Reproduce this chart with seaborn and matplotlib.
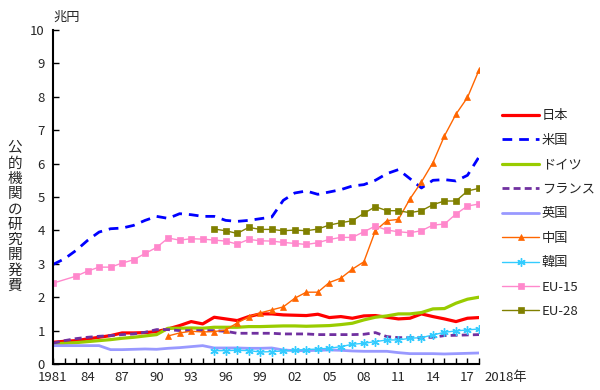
import numpy as np
import pandas as pd
import matplotlib
matplotlib.use("Agg")
import matplotlib.pyplot as plt
import seaborn as sns

years = list(range(1981, 2019))
nan = np.nan

japan = [0.65, 0.68, 0.70, 0.75, 0.80, 0.85, 0.93, 0.93, 0.94, 0.97,
         1.05, 1.15, 1.27, 1.20, 1.40, 1.35, 1.30, 1.42, 1.50, 1.50,
         1.47, 1.46, 1.45, 1.49, 1.39, 1.42, 1.37, 1.44, 1.45, 1.40,
         1.35, 1.37, 1.50, 1.42, 1.35, 1.27, 1.37, 1.39]
usa = [2.98, 3.15, 3.40, 3.70, 3.95, 4.05, 4.07, 4.15, 4.30, 4.42,
       4.36, 4.50, 4.47, 4.42, 4.42, 4.30, 4.27, 4.30, 4.35, 4.40,
       4.90, 5.12, 5.18, 5.08, 5.15, 5.22, 5.33, 5.37, 5.50, 5.70,
       5.82, 5.55, 5.27, 5.50, 5.52, 5.48, 5.65, 6.20]
germany = [0.60, 0.62, 0.64, 0.67, 0.70, 0.73, 0.77, 0.80, 0.84, 0.88,
           1.07, 1.07, 1.08, 1.07, 1.10, 1.10, 1.10, 1.12, 1.12, 1.13,
           1.14, 1.14, 1.13, 1.14, 1.15, 1.18, 1.22, 1.32, 1.40, 1.44,
           1.50, 1.50, 1.54, 1.65, 1.66, 1.82, 1.94, 2.00]
france = [0.62, 0.70, 0.76, 0.80, 0.83, 0.85, 0.88, 0.90, 0.95, 1.03,
          1.03, 1.00, 1.00, 1.00, 1.00, 0.98, 0.92, 0.92, 0.92, 0.92,
          0.90, 0.90, 0.90, 0.88, 0.88, 0.88, 0.88, 0.89, 0.94, 0.82,
          0.79, 0.79, 0.79, 0.80, 0.85, 0.86, 0.87, 0.88]
uk = [0.55, 0.55, 0.55, 0.55, 0.55, 0.43, 0.43, 0.44, 0.45, 0.44,
      0.47, 0.49, 0.52, 0.55, 0.48, 0.48, 0.48, 0.47, 0.47, 0.48,
      0.42, 0.40, 0.40, 0.41, 0.42, 0.41, 0.39, 0.38, 0.38, 0.38,
      0.34, 0.31, 0.31, 0.31, 0.30, 0.31, 0.32, 0.33]
china = [nan] * 10 + [
    0.84, 0.93, 0.98, 0.96, 0.97, 1.02, 1.23, 1.41, 1.53, 1.62,
    1.71, 1.97, 2.15, 2.15, 2.44, 2.57, 2.84, 3.06, 3.99, 4.29,
    4.33, 4.94, 5.45, 6.03, 6.83, 7.48, 7.98, 8.80]
korea = [nan] * 14 + [
    0.40, 0.40, 0.41, 0.40, 0.36, 0.37,
    0.39, 0.41, 0.43, 0.45, 0.47, 0.52, 0.59, 0.62, 0.67, 0.72,
    0.72, 0.77, 0.79, 0.87, 0.95, 0.99, 1.02, 1.05]
eu15 = [2.42, nan, 2.63, 2.78, 2.90, 2.90, 3.02, 3.12, 3.31, 3.49,
        3.77, 3.71, 3.75, 3.74, 3.71, 3.68, 3.59, 3.73, 3.69, 3.68,
        3.64, 3.61, 3.58, 3.63, 3.73, 3.79, 3.79, 3.96, 4.13, 4.01,
        3.96, 3.93, 3.99, 4.16, 4.19, 4.49, 4.73, 4.79]
eu28 = [nan] * 14 + [
    4.04, 3.99, 3.91, 4.09, 4.03, 4.03,
    3.99, 4.01, 3.99, 4.04, 4.16, 4.23, 4.29, 4.51, 4.71, 4.59,
    4.59, 4.53, 4.59, 4.77, 4.88, 4.88, 5.18, 5.26]

tick_years = list(range(1981, 2019, 3))
tick_labels = ["1981"] + [f"{y % 100:02d}" for y in tick_years[1:]]

sns.set_theme(style="ticks")
plt.rcParams["font.family"] = ["Noto Sans CJK JP", "DejaVu Sans"]

series = [
    ("日本", japan, dict(color="#FF0000", lw=2.3)),
    ("米国", usa, dict(color="#0000FF", lw=2.0, dashes=(3.5, 2.5))),
    ("ドイツ", germany, dict(color="#99CC00", lw=2.3)),
    ("フランス", france, dict(color="#7030A0", lw=2.0, dashes=(2.5, 1.5))),
    ("英国", uk, dict(color="#9999FF", lw=2.0)),
    ("中国", china, dict(color="#FF6600", lw=1.0, marker="^", markersize=5,
                         markeredgecolor="#FF6600", markeredgewidth=0.5)),
    ("韓国", korea, dict(color="#33CCFF", lw=1.0, marker=(6, 2, 0), markersize=6,
                         markeredgecolor="#33CCFF", markeredgewidth=1.0)),
    ("EU-15", eu15, dict(color="#FF88CC", lw=1.0, marker="s", markersize=5,
                          markeredgecolor="#FF88CC", markeredgewidth=0.5)),
    ("EU-28", eu28, dict(color="#808000", lw=1.0, marker="s", markersize=5,
                          markeredgecolor="#808000", markeredgewidth=0.5)),
]

fig = plt.figure(figsize=(6, 3.9), dpi=100)
ax = fig.add_axes([53 / 600, 26 / 390, 426 / 600, 334 / 390])

for name, vals, style in series:
    df = pd.DataFrame({"year": years, "value": vals}).dropna()
    sns.lineplot(data=df, x="year", y="value", ax=ax, label=name, **style)

ax.set_xlim(1981, 2018)
ax.set_ylim(0, 10)
ax.set_xticks(tick_years)
ax.set_xticklabels(tick_labels)
ax.set_xticks(years, minor=True)
ax.set_yticks(range(0, 11))
ax.tick_params(axis="both", which="both", direction="in", labelsize=9.5,
               color="black", width=1.0)
ax.tick_params(axis="both", which="major", length=4)
ax.tick_params(axis="x", which="minor", length=4)
ax.tick_params(axis="x", pad=5)
ax.tick_params(axis="y", pad=6)
ax.set_xlabel("")
ax.set_ylabel("")
sns.despine(ax=ax)
for sp in ("left", "bottom"):
    ax.spines[sp].set_linewidth(1.5)
    ax.spines[sp].set_color("black")

fig.text(53 / 600, 1 - 17 / 390, "兆円", fontsize=9.5, ha="left", va="center")
fig.text(484 / 600, 1 - 377 / 390, "2018年", fontsize=9.5, ha="left", va="center")
fig.text(15 / 600, 1 - 217 / 390, "\n".join("公的機関の研究開発費"),
         fontsize=10.5, ha="center", va="center", linespacing=1.12)

ax.legend_.remove()
handles, labels = ax.get_legend_handles_labels()
fig.legend(handles, labels, loc="upper left", bbox_to_anchor=(497 / 600, 1 - 104 / 390),
           frameon=False, fontsize=9.5, labelspacing=0.87, handlelength=2.8,
           handletextpad=0.2, borderaxespad=0)

fig.savefig("out.png", dpi=100, facecolor="white")
